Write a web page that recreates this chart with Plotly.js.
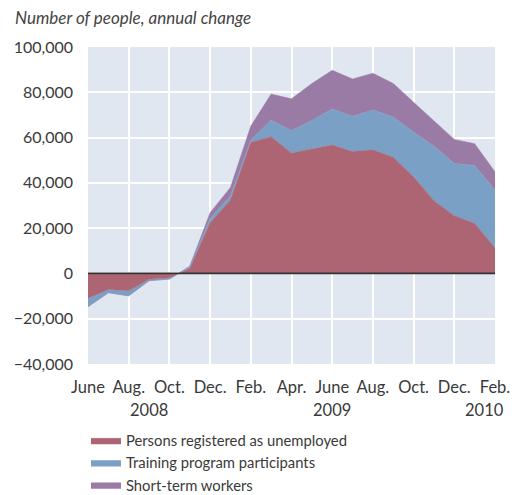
<!DOCTYPE html>
<html><head><meta charset="utf-8">
<script src="https://cdn.plot.ly/plotly-3.0.1.min.js"></script>
<style>body{margin:0;background:#fff}#c{width:517px;height:495px}</style>
</head><body><div id="c"></div>
<script>
// Months June 2008 .. Feb 2010 (index 0..20)
const months = ["Jun 2008","Jul 2008","Aug 2008","Sep 2008","Oct 2008","Nov 2008","Dec 2008","Jan 2009","Feb 2009","Mar 2009","Apr 2009","May 2009","Jun 2009","Jul 2009","Aug 2009","Sep 2009","Oct 2009","Nov 2009","Dec 2009","Jan 2010","Feb 2010"];
const unemployed = [-11000,-7100,-7700,-2600,-1900,2200,22400,32400,57900,60400,53200,54900,56700,53800,54600,51300,42700,32100,25500,22100,11300];
const training   = [-3700,-1400,-2200,-600,-600,700,1900,1800,900,7300,9900,12600,15900,15600,17600,17800,19600,24200,23100,25600,25500];
const shortTerm  = [0,0,0,0,0,300,2500,3800,6300,11500,14000,16400,17100,16500,16200,14800,13300,11200,10600,9600,8100];
const tickMonths = ["June","Aug.","Oct.","Dec.","Feb.","Apr.","June","Aug.","Oct.","Dec.","Feb."];
const years = ["2008","2009","2010"];
const yearPos = [3, 12, 19.5];
const seriesNames = ["Persons registered as unemployed","Training program participants","Short-term workers"];
const colors = ["#ad6574","#7aa1c5","#9a7ba6"];

const x = months.map((_, i) => i);
const vals = [unemployed, training, shortTerm];
const traces = vals.map((v, k) => ({
  x: x, y: v, type: "scatter", mode: "lines", stackgroup: "one",
  name: seriesNames[k], fillcolor: colors[k],
  line: {color: colors[k], width: 0.5}, hoverinfo: "skip"
}));

const FONT = "Lato, 'Open Sans', sans-serif";
const layout = {
  width: 517, height: 495,
  margin: {l: 88, r: 22, t: 47, b: 131, autoexpand: false},
  paper_bgcolor: "#ffffff", plot_bgcolor: "#e1e7f1",
  font: {family: FONT, size: 16, color: "#3a3a3a"},
  title: {text: "Number of people, annual change", x: 15/517, xanchor: "left", xref: "container",
          y: 1 - 18/495, yanchor: "middle", yref: "container",
          font: {size: 17, style: "italic", color: "#444", family: FONT}},
  xaxis: {range: [0, 20], tickvals: x.filter(i => i % 2 === 0), ticktext: tickMonths,
          showgrid: true, gridcolor: "#ffffff", gridwidth: 2, zeroline: false,
          ticks: "", showline: false, fixedrange: true, tickfont: {size: 16.5},
          ticklabelstandoff: 11},
  yaxis: {range: [-40000, 100000], dtick: 20000, tickformat: ",d",
          showgrid: true, gridcolor: "#ffffff", gridwidth: 2, zeroline: false,
          ticks: "", showline: false, fixedrange: true, tickfont: {size: 16},
          ticklabelstandoff: 14},
  showlegend: true,
  legend: {orientation: "v", x: -0.005, xanchor: "left", y: -0.19, yanchor: "top",
           traceorder: "normal", font: {size: 14.8, color: "#3a3a3a"}, bgcolor: "rgba(0,0,0,0)",
           itemwidth: 30, tracegroupgap: 0},
  shapes: [
    {type: "line", xref: "x", yref: "paper", x0: 6, x1: 6, y0: 0, y1: 1, layer: "below", line: {color: "#2a7bbf", width: 1.2}},
    {type: "line", xref: "x", yref: "paper", x0: 18, x1: 18, y0: 0, y1: 1, layer: "below", line: {color: "#2a7bbf", width: 1.2}},
    {type: "line", xref: "paper", yref: "y", x0: 0, x1: 1, y0: 0, y1: 0, layer: "above", line: {color: "#333333", width: 1.8}}
  ],
  annotations: years.map((t, i) => ({text: t, x: yearPos[i], xref: "x", y: 0, yref: "paper",
      yshift: -34, yanchor: "top", showarrow: false, font: {size: 16.5, color: "#3a3a3a"}}))
};
Plotly.newPlot("c", traces, layout, {displayModeBar: false, staticPlot: true});
</script></body></html>
